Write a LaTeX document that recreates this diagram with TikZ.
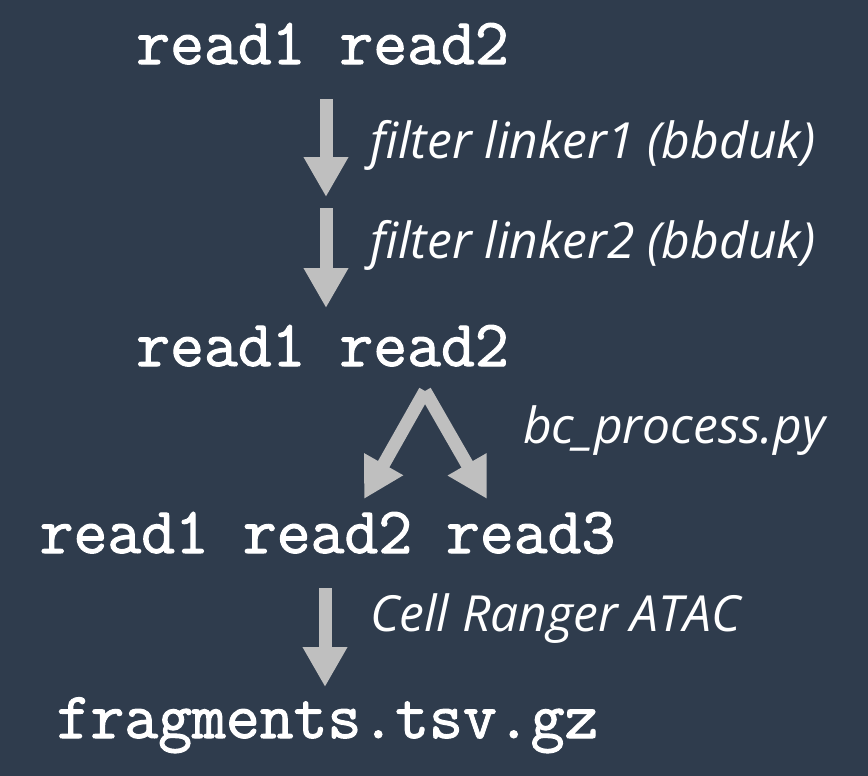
\documentclass[tikz,border=0pt]{standalone}
\usepackage{fontspec}
\usepackage{tikz}
\usetikzlibrary{arrows.meta}
\newfontfamily\readfont{Latin Modern Mono}[FakeBold=1.6]
\newfontfamily\labelfont{Open Sans}
\definecolor{slatebg}{HTML}{2F3C4D}
\definecolor{arrowgray}{HTML}{BFBFBF}

\tikzset{
  reads/.style={anchor=base,inner sep=0pt,text=white,font=\fontsize{66}{70}\selectfont\readfont},
  tool/.style={anchor=base west,inner sep=0pt,text=white,font=\fontsize{50}{54}\selectfont\labelfont\itshape},
  bigarrow/.style={-{Triangle[width=42bp,length=40bp]},line width=13bp,draw=arrowgray}
}

\begin{document}
\begin{tikzpicture}

\fill [slatebg] (0bp,0bp) rectangle (868bp,-776bp);
\useasboundingbox (0bp,0bp) rectangle (868bp,-776bp);

\node (R1) at (322.5bp,-64bp)[reads] {read1 read2};
\node (R2) at (322.5bp,-366bp)[reads] {read1 read2};
\node (R3) at (327.5bp,-553bp)[reads] {read1 read2 read3};
\node (FR) at (327.5bp,-738bp)[reads] {fragments.tsv.gz};

\node (L1) at (370bp,-158bp)[tool] {filter linker1 (bbduk)};
\node (L2) at (370bp,-258bp)[tool] {filter linker2 (bbduk)};
\node (BC) at (523bp,-443bp)[tool] {bc\_process.py};
\node (CR) at (370bp,-631bp)[tool] {Cell Ranger ATAC};

\coordinate (A1s) at (326bp,-99bp);
\coordinate (A1e) at (326bp,-197bp);
\coordinate (A2s) at (326bp,-208bp);
\coordinate (A2e) at (326bp,-308bp);
\coordinate (Fork) at (425bp,-391bp);
\coordinate (ForkL) at (364bp,-499bp);
\coordinate (ForkR) at (487bp,-499bp);
\coordinate (A3s) at (325bp,-588bp);
\coordinate (A3e) at (325bp,-687bp);

\draw [bigarrow] (A1s) to (A1e);
\draw [bigarrow] (A2s) to (A2e);
\draw [bigarrow] (Fork) to (ForkL);
\draw [bigarrow] (Fork) to (ForkR);
\draw [bigarrow] (A3s) to (A3e);
\end{tikzpicture}
\end{document}
